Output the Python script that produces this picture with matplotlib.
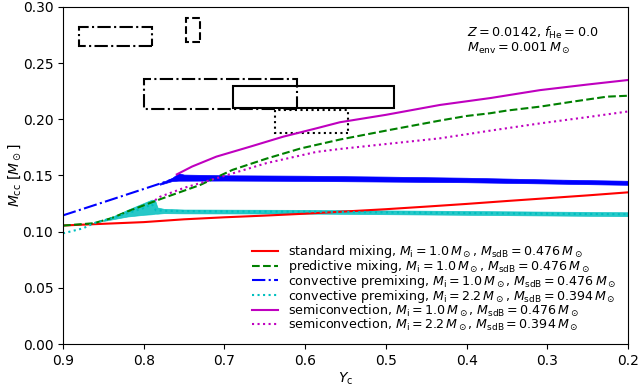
import matplotlib
matplotlib.use("Agg")
import matplotlib.pyplot as plt
from matplotlib.patches import Rectangle

# ---------------- data ----------------
std_x = [0.9, 0.85, 0.8, 0.75, 0.7, 0.65, 0.6, 0.55, 0.5, 0.45, 0.4, 0.35, 0.3, 0.25, 0.2]
std_y = [0.1055, 0.107, 0.1085, 0.111, 0.1128, 0.1143, 0.116, 0.118, 0.120, 0.1223, 0.1247, 0.1273, 0.1298, 0.1323, 0.135]

pred_x = [0.9, 0.862, 0.84, 0.82, 0.78, 0.73, 0.69, 0.648, 0.606, 0.557, 0.495, 0.433, 0.4, 0.371, 0.35, 0.309, 0.268, 0.226, 0.2]
pred_y = [0.1054, 0.1075, 0.112, 0.118, 0.1288, 0.1416, 0.155, 0.165, 0.174, 0.182, 0.1906, 0.1989, 0.203, 0.2054, 0.2078, 0.2113, 0.2158, 0.2202, 0.221]

cp1_x = [0.9, 0.85, 0.8, 0.76, 0.75, 0.7, 0.6, 0.5, 0.4, 0.3, 0.2]
cp1_y = [0.1145, 0.1262, 0.138, 0.1475, 0.148, 0.1478, 0.1475, 0.1468, 0.146, 0.1447, 0.1435]
cp1_band_x = [0.78, 0.765, 0.757, 0.75, 0.7, 0.6, 0.5, 0.4, 0.3, 0.2]
cp1_band_lo = [0.1418, 0.1450, 0.1454, 0.1454, 0.1455, 0.1452, 0.1446, 0.1440, 0.1429, 0.1417]
cp1_band_hi = [0.1432, 0.1478, 0.1520, 0.1508, 0.1502, 0.1498, 0.1490, 0.1480, 0.1465, 0.1453]

cp2_x = [0.9, 0.875, 0.862, 0.84, 0.82, 0.8, 0.79, 0.785, 0.77, 0.7, 0.6, 0.5, 0.4, 0.3, 0.2]
cp2_y = [0.0985, 0.103, 0.1075, 0.112, 0.1165, 0.121, 0.1245, 0.119, 0.1185, 0.118, 0.1178, 0.1172, 0.1166, 0.116, 0.1155]
cp2_band_x = [0.85, 0.835, 0.82, 0.80, 0.79, 0.786, 0.783, 0.775, 0.75, 0.6, 0.4, 0.2]
cp2_band_lo = [0.1095, 0.1115, 0.1135, 0.115, 0.1155, 0.116, 0.116, 0.1165, 0.1163, 0.1161, 0.1150, 0.1138]
cp2_band_hi = [0.1105, 0.1145, 0.1195, 0.1255, 0.1285, 0.128, 0.1215, 0.1203, 0.1197, 0.1194, 0.1184, 0.1173]

sc1_x = [0.759, 0.74, 0.71, 0.668, 0.627, 0.586, 0.557, 0.5, 0.433, 0.37, 0.309, 0.25, 0.2]
sc1_y = [0.151, 0.158, 0.1668, 0.1757, 0.1846, 0.192, 0.1974, 0.204, 0.2128, 0.219, 0.226, 0.231, 0.235]

sc2_x = [0.786, 0.78, 0.75, 0.71, 0.648, 0.586, 0.557, 0.5, 0.433, 0.37, 0.309, 0.25, 0.2]
sc2_y = [0.128, 0.131, 0.139, 0.1475, 0.161, 0.171, 0.1736, 0.178, 0.1831, 0.190, 0.1964, 0.202, 0.207]

# observational boxes
box_x0 = [0.79, 0.730, 0.61, 0.49, 0.547]
box_x1 = [0.88, 0.747, 0.80, 0.69, 0.637]
box_y0 = [0.265, 0.269, 0.209, 0.210, 0.188]
box_y1 = [0.282, 0.290, 0.236, 0.230, 0.208]
box_ls = ['-.', '--', '-.', '-', ':']

labels = [
    r"standard mixing, $M_\mathrm{i}=1.0\,M_\odot$, $M_\mathrm{sdB}=0.476\,M_\odot$",
    r"predictive mixing, $M_\mathrm{i}=1.0\,M_\odot$, $M_\mathrm{sdB}=0.476\,M_\odot$",
    r"convective premixing, $M_\mathrm{i}=1.0\,M_\odot$, $M_\mathrm{sdB}=0.476\,M_\odot$",
    r"convective premixing, $M_\mathrm{i}=2.2\,M_\odot$, $M_\mathrm{sdB}=0.394\,M_\odot$",
    r"semiconvection, $M_\mathrm{i}=1.0\,M_\odot$, $M_\mathrm{sdB}=0.476\,M_\odot$",
    r"semiconvection, $M_\mathrm{i}=2.2\,M_\odot$, $M_\mathrm{sdB}=0.394\,M_\odot$",
]

xticks = [0.9, 0.8, 0.7, 0.6, 0.5, 0.4, 0.3, 0.2]
yticks = [0.0, 0.05, 0.10, 0.15, 0.20, 0.25, 0.30]

# ---------------- plot ----------------
fig = plt.figure(figsize=(6.38, 3.92), dpi=100)
ax = fig.add_axes([63 / 638, 48 / 392, 565 / 638, 337 / 392])

ax.plot(std_x, std_y, color='r', ls='-', lw=1.5, label=labels[0])
ax.plot(pred_x, pred_y, color='g', ls='--', lw=1.5, label=labels[1])
ax.plot(cp1_x, cp1_y, color='b', ls='-.', lw=1.5, label=labels[2])
ax.fill_between(cp1_band_x, cp1_band_lo, cp1_band_hi, color='b', lw=0.5)
ax.plot(cp2_x, cp2_y, color='c', ls=':', lw=1.5, label=labels[3])
ax.fill_between(cp2_band_x, cp2_band_lo, cp2_band_hi, color='c', lw=0.5, alpha=0.85)
ax.plot(sc1_x, sc1_y, color='m', ls='-', lw=1.5, label=labels[4])
ax.plot(sc2_x, sc2_y, color='m', ls=':', lw=1.5, label=labels[5])

for x0, x1, y0, y1, ls in zip(box_x0, box_x1, box_y0, box_y1, box_ls):
    ax.add_patch(Rectangle((x0, y0), x1 - x0, y1 - y0, fill=False,
                           edgecolor='k', ls=ls, lw=1.5))

ax.set_xlim(0.9, 0.2)
ax.set_ylim(0.0, 0.3)
ax.set_xticks(xticks)
ax.set_xticklabels([f"{t:.1f}" for t in xticks])
ax.set_yticks(yticks)
ax.set_yticklabels([f"{t:.2f}" for t in yticks])
ax.tick_params(labelsize=10)

ax.set_xlabel(r"$Y_\mathrm{c}$", fontsize=10, labelpad=2)
ax.set_ylabel(r"$M_\mathrm{cc}\ [M_\odot]$", fontsize=10, labelpad=0)

ax.text(0.715, 0.90, "$Z=0.0142$, $f_\\mathrm{He}=0.0$\n$M_\\mathrm{env}=0.001\\,M_\\odot$",
        transform=ax.transAxes, fontsize=9.2, va='center', ha='left', linespacing=1.0)

ax.legend(loc='lower right', frameon=False, fontsize=9.1, labelspacing=-0.17,
          handlelength=2.1, handletextpad=0.8)

fig.savefig("out.png", dpi=100)
